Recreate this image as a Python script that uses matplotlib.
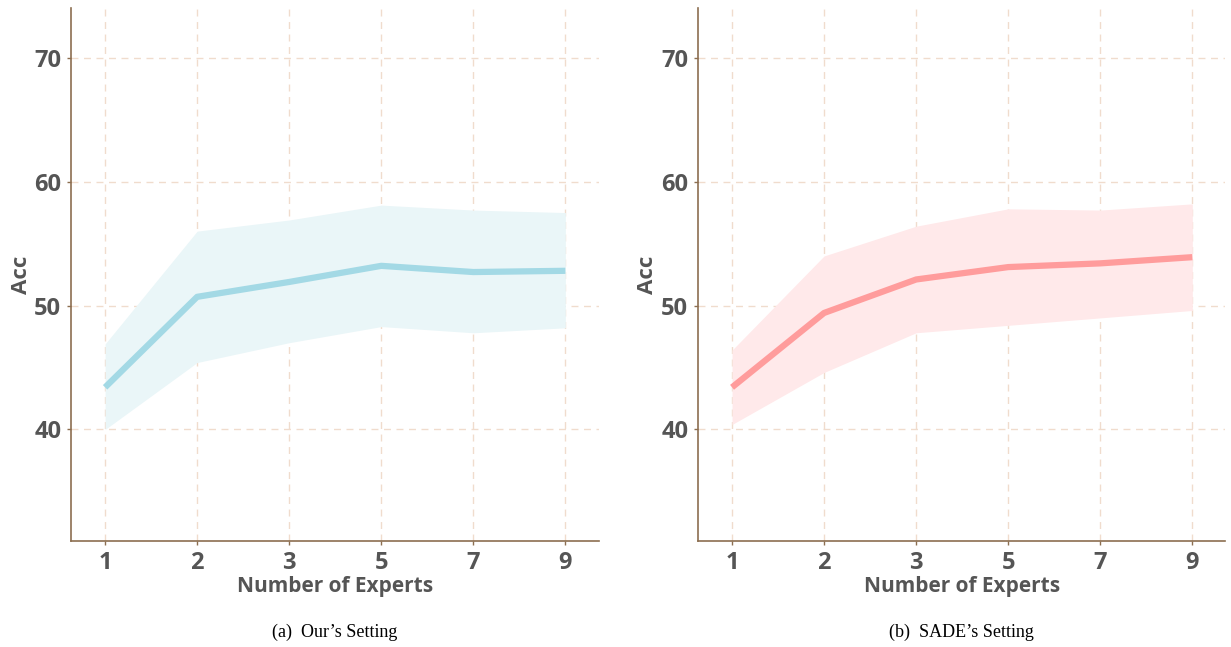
import matplotlib
matplotlib.use('Agg')
import matplotlib.pyplot as plt

experts = ["1", "2", "3", "5", "7", "9"]

ours_mean = [43.4, 50.7, 51.9, 53.2, 52.7, 52.8]
ours_upper = [46.9, 56.0, 56.9, 58.1, 57.7, 57.5]
ours_lower = [40.0, 45.4, 47.0, 48.3, 47.8, 48.2]

sade_mean = [43.4, 49.4, 52.1, 53.1, 53.4, 53.9]
sade_upper = [46.4, 54.0, 56.4, 57.8, 57.7, 58.2]
sade_lower = [40.4, 44.6, 47.8, 48.4, 49.0, 49.6]

yticks = [40, 50, 60, 70]
captions = ["(a)  Our\u2019s Setting", "(b)  SADE\u2019s Setting"]

text_color = "#555555"
spine_color = "#8C6E50"
grid_color = "#F0DCCD"

fig = plt.figure(figsize=(12.31, 6.47), dpi=100)
panels = [
    (0.0577, ours_mean, ours_upper, ours_lower, "#A3D9E5", "#EAF6F8"),
    (0.5670, sade_mean, sade_upper, sade_lower, "#FF9C9C", "#FFE9EA"),
]

for (left, mean, upper, lower, line_c, fill_c), cap in zip(panels, captions):
    ax = fig.add_axes([left, 0.1638, 0.4285, 0.8238])
    xs = range(len(experts))
    ax.fill_between(xs, lower, upper, color=fill_c, linewidth=0, zorder=1)
    ax.plot(xs, mean, color=line_c, linewidth=4.5, solid_capstyle='butt', zorder=3)

    ax.set_xlim(-0.37, 5.36)
    ax.set_ylim(31, 74)
    ax.set_xticks(list(xs))
    ax.set_xticklabels(experts)
    ax.set_yticks(yticks)
    ax.grid(True, color=grid_color, linestyle=(0, (5, 4)), linewidth=1.0, zorder=0)
    ax.set_axisbelow(True)

    for s in ["top", "right"]:
        ax.spines[s].set_visible(False)
    for s in ["left", "bottom"]:
        ax.spines[s].set_color(spine_color)
        ax.spines[s].set_linewidth(1.2)

    ax.tick_params(length=3, width=1.0, color=spine_color, pad=4, labelcolor=text_color)
    for lab in ax.get_xticklabels() + ax.get_yticklabels():
        lab.set_fontfamily("Open Sans")
        lab.set_fontweight("bold")
        lab.set_fontsize(17)

    ax.set_xlabel("Number of Experts", fontfamily="Open Sans", fontweight="bold",
                  fontsize=15, color=text_color, labelpad=1)
    ax.set_ylabel("Acc", fontfamily="Open Sans", fontweight="bold",
                  fontsize=16, color=text_color, labelpad=2)

    ax.text(0.5, -0.172, cap, transform=ax.transAxes, ha="center", va="center",
            fontfamily="Liberation Serif", fontsize=13, color="black")

fig.savefig("out.png", dpi=100, facecolor="white")
